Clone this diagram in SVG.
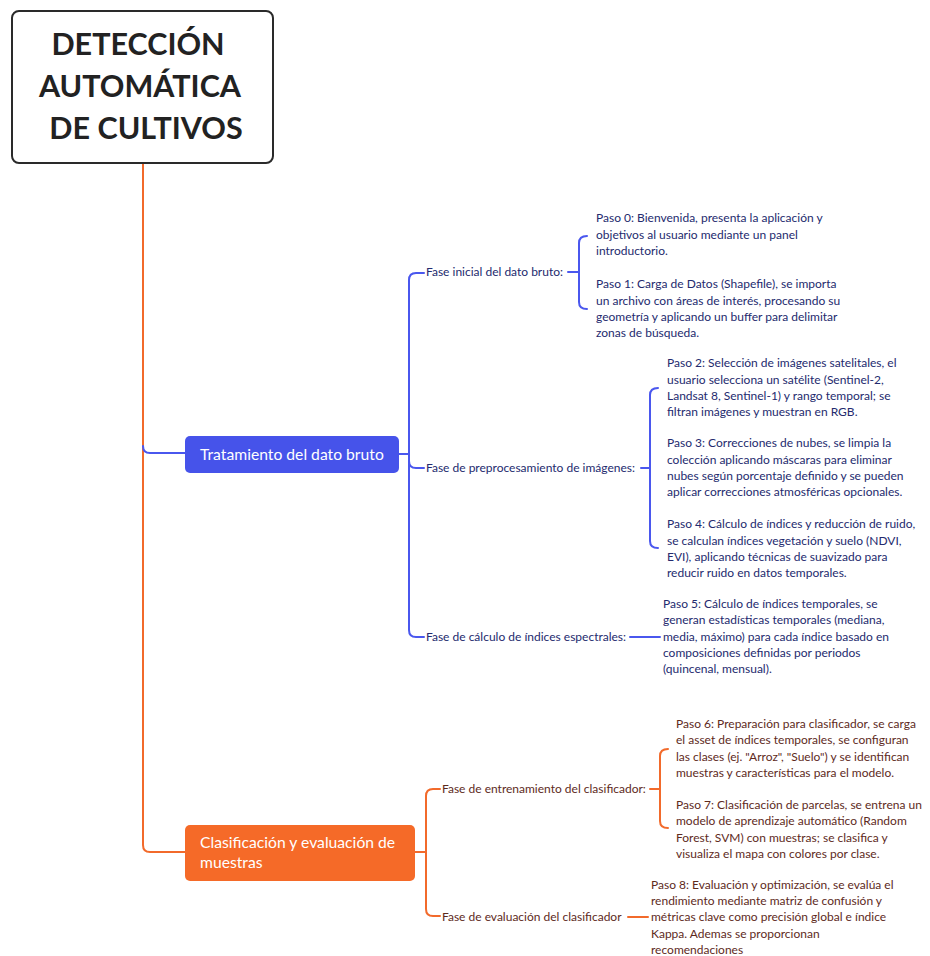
<svg xmlns="http://www.w3.org/2000/svg" width="930" height="956" viewBox="0 0 930 956">
<style>
.blue{fill:none;stroke:#4A57EE;stroke-width:2;stroke-linecap:round}
.orng{fill:none;stroke:#F26A2B;stroke-width:2;stroke-linecap:round}
.title{font-family:Lato,"Noto Sans",sans-serif;font-weight:bold;font-size:30.5px;fill:#222;text-anchor:middle}
.box{font-family:Lato,"Noto Sans",sans-serif;font-size:15.7px;fill:#fff}
.bt{font-family:Lato,"Noto Sans",sans-serif;font-size:12px;fill:#242A6E}
.ot{font-family:Lato,"Noto Sans",sans-serif;font-size:12px;fill:#5E2A1C}
</style>
<rect width="930" height="956" fill="#fff"/>
<g id="connectors">
<path class="orng" d="M143,163 L143,845 Q143,852 150,852 L185,852"/>
<path class="blue" d="M143,446 Q143,453 150,453 L185,453"/>
<path class="blue" d="M399,454 L409,454"/>
<path class="blue" d="M424,273 L416,273 Q409,273 409,280 L409,630 Q409,637 416,637 L424,637"/>
<path class="blue" d="M409,461 Q409,468 416,468 L424,468"/>
<path class="blue" d="M568,272 L579,272"/>
<path class="blue" d="M587,236 Q579,236 579,243 L579,302 Q579,309 587,309"/>
<path class="blue" d="M641,468 L650,468"/>
<path class="blue" d="M658,388 Q650,388 650,395 L650,541 Q650,548 658,548"/>
<path class="blue" d="M630,637 L660,637"/>
<path class="orng" d="M415,852 L426,852"/>
<path class="orng" d="M440,789 L433,789 Q426,789 426,796 L426,909 Q426,916 433,916 L440,916"/>
<path class="orng" d="M650,789 L660,789"/>
<path class="orng" d="M668,749 Q660,749 660,756 L660,821 Q660,828 668,828"/>
<path class="orng" d="M628,917 L648,917"/>
</g>
<g id="root">
<rect x="12" y="11" width="261" height="152" rx="7" fill="#fff" stroke="#2A2A2A" stroke-width="2"/>
<text class="title" x="138" y="55">DETECCIÓN</text>
<text class="title" x="140" y="97">AUTOMÁTICA</text>
<text class="title" x="146" y="139">DE CULTIVOS</text>
</g>
<g id="tratamiento">
<rect x="185" y="436" width="214" height="37" rx="5" fill="#4653EA"/>
<text class="box" x="200" y="460">Tratamiento del dato bruto</text>
</g>
<g id="fase-inicial">
<text class="bt" x="426" y="276">Fase inicial del dato bruto:</text>
</g>
<g id="paso-0-1">
<text class="bt">
<tspan x="596" y="222">Paso 0: Bienvenida, presenta la aplicación y</tspan>
<tspan x="596" y="239">objetivos al usuario mediante un panel</tspan>
<tspan x="596" y="255">introductorio.</tspan>
<tspan x="596" y="288">Paso 1: Carga de Datos (Shapefile), se importa</tspan>
<tspan x="596" y="305">un archivo con áreas de interés, procesando su</tspan>
<tspan x="596" y="321">geometría y aplicando un buffer para delimitar</tspan>
<tspan x="596" y="337">zonas de búsqueda.</tspan>
</text>
</g>
<g id="fase-preprocesamiento">
<text class="bt" x="426" y="472">Fase de preprocesamiento de imágenes:</text>
</g>
<g id="paso-2-4">
<text class="bt">
<tspan x="667" y="367">Paso 2: Selección de imágenes satelitales, el</tspan>
<tspan x="667" y="384">usuario selecciona un satélite (Sentinel-2,</tspan>
<tspan x="667" y="400">Landsat 8, Sentinel-1) y rango temporal; se</tspan>
<tspan x="667" y="416">filtran imágenes y muestran en RGB.</tspan>
<tspan x="667" y="447">Paso 3: Correcciones de nubes, se limpia la</tspan>
<tspan x="667" y="464">colección aplicando máscaras para eliminar</tspan>
<tspan x="667" y="480">nubes según porcentaje definido y se pueden</tspan>
<tspan x="667" y="496">aplicar correcciones atmosféricas opcionales.</tspan>
<tspan x="667" y="528">Paso 4: Cálculo de índices y reducción de ruido,</tspan>
<tspan x="667" y="545">se calculan índices vegetación y suelo (NDVI,</tspan>
<tspan x="667" y="561">EVI), aplicando técnicas de suavizado para</tspan>
<tspan x="667" y="577">reducir ruido en datos temporales.</tspan>
</text>
</g>
<g id="fase-calculo">
<text class="bt" x="426" y="641">Fase de cálculo de índices espectrales:</text>
</g>
<g id="paso-5">
<text class="bt">
<tspan x="663" y="608">Paso 5: Cálculo de índices temporales, se</tspan>
<tspan x="663" y="624">generan estadísticas temporales (mediana,</tspan>
<tspan x="663" y="641">media, máximo) para cada índice basado en</tspan>
<tspan x="663" y="657">composiciones definidas por periodos</tspan>
<tspan x="663" y="673">(quincenal, mensual).</tspan>
</text>
</g>
<g id="clasificacion">
<rect x="185" y="825" width="230" height="56" rx="5" fill="#F56A28"/>
<text class="box"><tspan x="200" y="848">Clasificación y evaluación de</tspan><tspan x="200" y="868">muestras</tspan></text>
</g>
<g id="fase-entrenamiento">
<text class="ot" x="442" y="793">Fase de entrenamiento del clasificador:</text>
</g>
<g id="paso-6-7">
<text class="ot">
<tspan x="676" y="728">Paso 6: Preparación para clasificador, se carga</tspan>
<tspan x="676" y="744">el asset de índices temporales, se configuran</tspan>
<tspan x="676" y="761">las clases (ej. "Arroz", "Suelo") y se identifican</tspan>
<tspan x="676" y="777">muestras y características para el modelo.</tspan>
<tspan x="676" y="809">Paso 7: Clasificación de parcelas, se entrena un</tspan>
<tspan x="676" y="825">modelo de aprendizaje automático (Random</tspan>
<tspan x="676" y="842">Forest, SVM) con muestras; se clasifica y</tspan>
<tspan x="676" y="858">visualiza el mapa con colores por clase.</tspan>
</text>
</g>
<g id="fase-evaluacion">
<text class="ot" x="442" y="921">Fase de evaluación del clasificador</text>
</g>
<g id="paso-8">
<text class="ot">
<tspan x="651" y="889">Paso 8: Evaluación y optimización, se evalúa el</tspan>
<tspan x="651" y="905">rendimiento mediante matriz de confusión y</tspan>
<tspan x="651" y="921">métricas clave como precisión global e índice</tspan>
<tspan x="651" y="938">Kappa. Ademas se proporcionan</tspan>
<tspan x="651" y="954">recomendaciones</tspan>
</text>
</g>
</svg>
